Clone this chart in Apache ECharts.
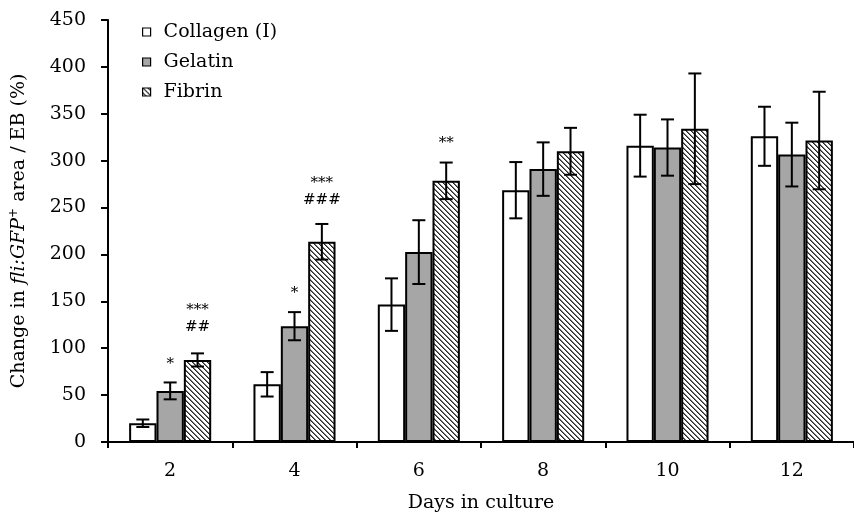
<!DOCTYPE html>
<html>
<head>
<meta charset="utf-8">
<script src="https://cdn.jsdelivr.net/npm/echarts@6/dist/echarts.min.js"></script>
<style>html,body{margin:0;padding:0;background:#fff}#c{width:854px;height:518px}</style>
</head>
<body>
<div id="c"></div>
<script>
const categories = ['2', '4', '6', '8', '10', '12'];
const seriesNames = ['Collagen (I)', 'Gelatin', 'Fibrin'];
const collagen = [20, 61.5, 146.5, 268.5, 316, 326];
const collagenErr = [4, 13, 28, 30, 33, 31.5];
const gelatin = [54.5, 123.5, 202.5, 291, 314, 306.5];
const gelatinErr = [9, 15, 34, 28.5, 30, 34];
const fibrin = [87.5, 213.5, 278.5, 310, 334, 321.5];
const fibrinErr = [7, 19, 19.5, 25, 59, 52];
const yTicks = [0, 50, 100, 150, 200, 250, 300, 350, 400, 450];
// annotations: [category index, series index, y value, text]
const annotations = [
  [0, 1, 83, '*'],
  [0, 2, 140.5, '***'],
  [0, 2, 123, '##'],
  [1, 1, 159, '*'],
  [1, 2, 276, '***'],
  [1, 2, 258, '###'],
  [2, 2, 319, '**']
];

const FONT = 'DejaVu Serif';

// hatch pattern
function makeHatch() {
  const p = 5;
  const cv = document.createElement('canvas');
  cv.width = p; cv.height = p;
  const ctx = cv.getContext('2d');
  const img = ctx.createImageData(p, p);
  for (let y = 0; y < p; y++) {
    for (let x = 0; x < p; x++) {
      const d = ((x - y) % p + p) % p;
      let v = 255;
      if (d === 0) v = 40;
      else if (d === 1) v = 120;
      const i = (y * p + x) * 4;
      img.data[i] = v; img.data[i + 1] = v; img.data[i + 2] = v; img.data[i + 3] = 255;
    }
  }
  ctx.putImageData(img, 0, 0);
  return cv;
}
const hatch = { image: makeHatch(), repeat: 'repeat' };

const values = [collagen, gelatin, fibrin];
const errs = [collagenErr, gelatinErr, fibrinErr];
const fills = ['#ffffff', '#a6a6a6', hatch];

const errData = [];
for (let s = 0; s < 3; s++) {
  for (let c = 0; c < categories.length; c++) {
    errData.push([c, s, values[s][c], errs[s][c]]);
  }
}

const GAP = 0.34;

const barSeries = seriesNames.map((n, s) => ({
  name: n,
  type: 'bar',
  data: values[s],
  barGap: '0%',
  barCategoryGap: (GAP * 100) + '%',
  itemStyle: { color: fills[s], borderColor: '#000', borderWidth: 2 },
  emphasis: { disabled: true },
  animation: false
}));

const chart = echarts.init(document.getElementById('c'), null, { renderer: 'canvas' });
chart.setOption({
  animation: false,
  backgroundColor: '#fff',
  textStyle: { fontFamily: FONT },
  grid: { left: 102, top: 20, width: 758, height: 424, containLabel: false },
  legend: {
    orient: 'vertical',
    left: 137, top: 17,
    itemWidth: 8, itemHeight: 8,
    itemGap: 10,
    icon: 'rect',
    itemStyle: { borderWidth: 1.2, borderColor: '#000' },
    textStyle: { fontFamily: FONT, fontSize: 19, color: '#000', lineHeight: 20, padding: [0, 0, 0, 8] },
    data: seriesNames,
    selectedMode: false
  },
  xAxis: {
    type: 'category',
    data: categories,
    name: 'Days in culture',
    nameLocation: 'middle',
    nameGap: 52,
    nameTextStyle: { fontFamily: FONT, fontSize: 19, color: '#000' },
    axisLine: { lineStyle: { color: '#000', width: 2 } },
    axisTick: { show: true, alignWithLabel: false, length: 6, inside: false, lineStyle: { color: '#000', width: 2 } },
    axisLabel: { fontFamily: FONT, fontSize: 19, color: '#000', margin: 20 },
    splitLine: { show: false }
  },
  yAxis: {
    type: 'value',
    min: yTicks[0], max: yTicks[yTicks.length - 1], interval: 50,
    name: '{a|Change in }{i|fli:GFP}{s|+}{a| area / EB (%)}',
    nameLocation: 'middle',
    nameGap: 78,
    nameTextStyle: {
      fontFamily: FONT, fontSize: 19, color: '#000',
      rich: {
        a: { fontFamily: FONT, fontSize: 19, color: '#000', lineHeight: 22 },
        i: { fontFamily: FONT, fontSize: 19, fontStyle: 'italic', color: '#000', lineHeight: 22 },
        s: { fontFamily: FONT, fontSize: 12, color: '#000', verticalAlign: 'top', lineHeight: 22 }
      }
    },
    axisLine: { show: true, lineStyle: { color: '#000', width: 2 } },
    axisTick: { show: true, length: 7, lineStyle: { color: '#000', width: 2 } },
    axisLabel: { fontFamily: FONT, fontSize: 19, color: '#000', margin: 22 },
    splitLine: { show: false }
  },
  series: barSeries.concat([
    {
      type: 'custom',
      name: 'err',
      data: errData,
      encode: { x: 0, y: 2 },
      z: 10,
      silent: true,
      renderItem: function (params, api) {
        const c = api.value(0), s = api.value(1), v = api.value(2), e = api.value(3);
        const band = api.size([1, 0])[0];
        const bw = band * (1 - GAP) / 3;
        const base = api.coord([c, v]);
        const x = base[0] + (s - 1) * bw;
        const yt = api.coord([c, v + e])[1];
        const yb = api.coord([c, v - e])[1];
        const cap = 6.5;
        const st = { stroke: '#000', lineWidth: 2 };
        return {
          type: 'group',
          children: [
            { type: 'line', shape: { x1: x, y1: yt, x2: x, y2: yb }, style: st },
            { type: 'line', shape: { x1: x - cap, y1: yt, x2: x + cap, y2: yt }, style: st },
            { type: 'line', shape: { x1: x - cap, y1: yb, x2: x + cap, y2: yb }, style: st }
          ]
        };
      }
    },
    {
      type: 'custom',
      name: 'ann',
      data: annotations.map(a => [a[0], a[1], a[2]]),
      encode: { x: 0, y: 2 },
      z: 11,
      silent: true,
      renderItem: function (params, api) {
        const c = api.value(0), s = api.value(1), v = api.value(2);
        const band = api.size([1, 0])[0];
        const bw = band * (1 - GAP) / 3;
        const p = api.coord([c, v]);
        return {
          type: 'text',
          style: {
            x: p[0] + (s - 1) * bw, y: p[1],
            text: annotations[params.dataIndex][3],
            fontFamily: FONT, fontSize: 15, fill: '#000',
            align: 'center', verticalAlign: 'middle'
          }
        };
      }
    }
  ])
});
</script>
</body>
</html>
